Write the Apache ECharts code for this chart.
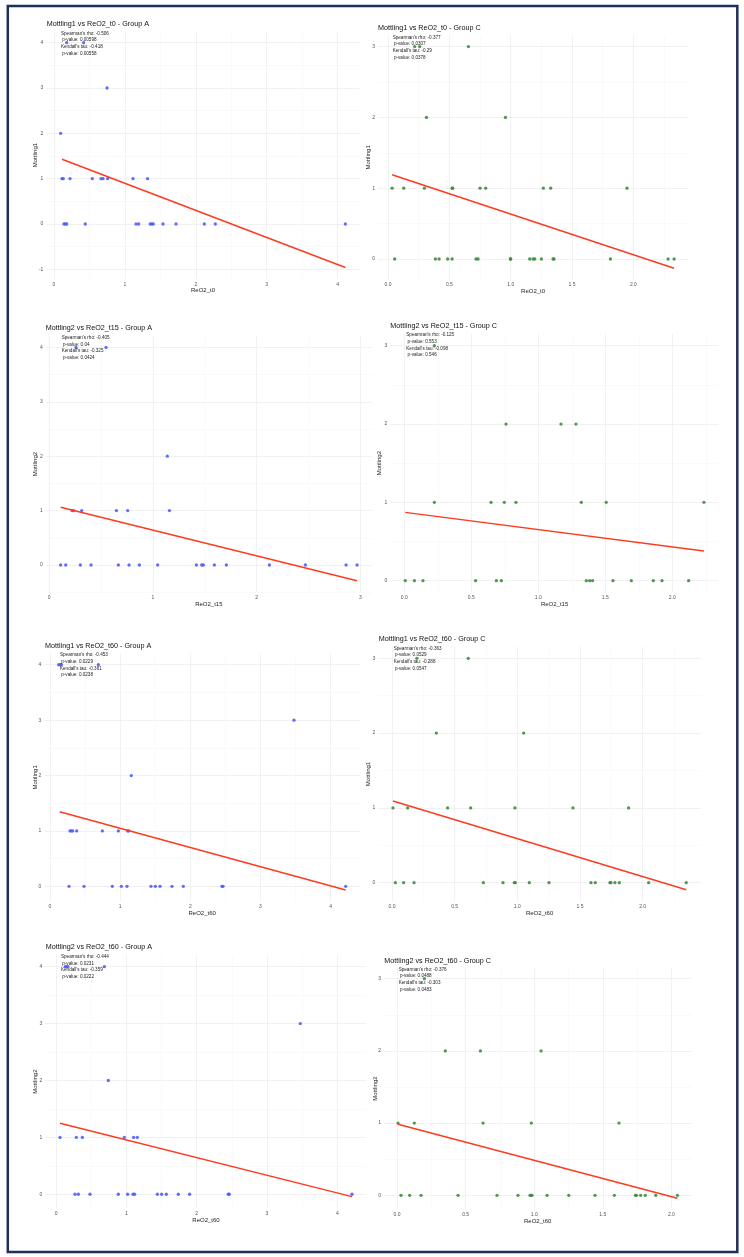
<!DOCTYPE html>
<html>
<head>
<meta charset="utf-8">
<script src="https://cdn.jsdelivr.net/npm/echarts@6/dist/echarts.min.js"></script>
<style>
  html, body { margin: 0; padding: 0; background: #fff; }
  #main { width: 744px; height: 1257px; }
</style>
</head>
<body>
<div id="main"></div>
<script>
// x values (ReO2) grouped by mottling score: index = score 0,1,2,3,4
var m1t0A = [
  [0.141, 0.16, 0.179, 0.441, 1.157, 1.194, 1.358, 1.378, 1.4, 1.537, 1.721, 2.12, 2.275, 4.109],
  [0.113, 0.131, 0.226, 0.54, 0.663, 0.691, 0.757, 1.114, 1.32],
  [0.094],
  [0.748],
  [0.179, 0.418]
];
var m1t0C = [
  [0.054, 0.386, 0.416, 0.486, 0.522, 0.717, 0.734, 0.997, 1.0, 1.155, 1.182, 1.196, 1.25, 1.345, 1.353, 1.813, 2.283, 2.332],
  [0.033, 0.128, 0.296, 0.522, 0.527, 0.75, 0.796, 1.266, 1.326, 1.948],
  [0.313, 0.957],
  [0.217, 0.258, 0.655]
];
var m2t15A = [
  [0.112, 0.161, 0.302, 0.405, 0.668, 0.771, 0.871, 1.047, 1.42, 1.471, 1.487, 1.593, 1.709, 2.123, 2.47, 2.862, 2.968],
  [0.222, 0.238, 0.315, 0.649, 0.758, 1.16],
  [1.14],
  [],
  [0.26, 0.549]
];
var m2t15C = [
  [0.007, 0.075, 0.139, 0.532, 0.687, 0.724, 1.358, 1.383, 1.405, 1.557, 1.694, 1.858, 1.923, 2.122],
  [0.224, 0.647, 0.746, 0.833, 1.321, 1.507, 2.236],
  [0.759, 1.169, 1.281],
  [0.224]
];
var m1t60A = [
  [0.271, 0.485, 0.888, 1.017, 1.097, 1.439, 1.501, 1.568, 1.739, 1.9, 2.451, 2.466, 4.214],
  [0.285, 0.304, 0.323, 0.38, 0.746, 0.974, 1.107, 1.121],
  [1.159],
  [3.477],
  [0.124, 0.147, 0.162, 0.689]
];
var m1t60C = [
  [0.027, 0.093, 0.176, 0.729, 0.886, 0.976, 0.984, 1.096, 1.253, 1.588, 1.622, 1.739, 1.747, 1.779, 1.814, 2.048, 2.348],
  [0.008, 0.125, 0.444, 0.628, 0.981, 1.444, 1.888],
  [0.354, 1.051],
  [0.199, 0.609]
];
var m2t60A = [
  [0.27, 0.318, 0.483, 0.886, 1.019, 1.095, 1.118, 1.441, 1.502, 1.569, 1.739, 1.9, 2.45, 2.464, 4.209],
  [0.057, 0.289, 0.374, 0.972, 1.104, 1.156],
  [0.744],
  [3.474],
  [0.133, 0.147, 0.171, 0.687]
];
var m2t60C = [
  [0.029, 0.092, 0.175, 0.445, 0.729, 0.882, 0.97, 0.977, 0.984, 1.094, 1.252, 1.443, 1.584, 1.738, 1.745, 1.776, 1.81, 1.886, 2.044],
  [0.007, 0.126, 0.627, 0.979, 1.618],
  [0.352, 0.608, 1.05],
  [0.199]
];

// fitted regression lines, endpoints
var fitM1T0A = [[0.113, 1.43], [4.109, -0.96]];
var fitM1T0C = [[0.033, 1.19], [2.332, -0.13]];
var fitM2T15A = [[0.112, 1.06], [2.968, -0.288]];
var fitM2T15C = [[0.007, 0.872], [2.236, 0.379]];
var fitM1T60A = [[0.138, 1.347], [4.214, -0.066]];
var fitM1T60C = [[0.008, 1.092], [2.348, -0.094]];
var fitM2T60A = [[0.057, 1.247], [4.209, -0.041]];
var fitM2T60C = [[0.007, 0.983], [2.044, -0.042]];

// rho, p, tau, p
var statsM1T0A = ['-0.506', '0.00598', '-0.418', '0.00558'];
var statsM1T0C = ['-0.377', '0.0307', '-0.29', '0.0378'];
var statsM2T15A = ['-0.405', '0.04', '-0.325', '0.0424'];
var statsM2T15C = ['-0.125', '0.553', '-0.098', '0.546'];
var statsM1T60A = ['-0.453', '0.0229', '-0.361', '0.0238'];
var statsM1T60C = ['-0.363', '0.0529', '-0.288', '0.0547'];
var statsM2T60A = ['-0.444', '0.0231', '-0.359', '0.0222'];
var statsM2T60C = ['-0.376', '0.0488', '-0.303', '0.0483'];

var panels = [
  { title: 'Mottling1 vs ReO2_t0 - Group A', xName: 'ReO2_t0', yName: 'Mottling1', pts: m1t0A, fit: fitM1T0A, stats: statsM1T0A, group: 'A' },
  { title: 'Mottling1 vs ReO2_t0 - Group C', xName: 'ReO2_t0', yName: 'Mottling1', pts: m1t0C, fit: fitM1T0C, stats: statsM1T0C, group: 'C' },
  { title: 'Mottling2 vs ReO2_t15 - Group A', xName: 'ReO2_t15', yName: 'Mottling2', pts: m2t15A, fit: fitM2T15A, stats: statsM2T15A, group: 'A' },
  { title: 'Mottling2 vs ReO2_t15 - Group C', xName: 'ReO2_t15', yName: 'Mottling2', pts: m2t15C, fit: fitM2T15C, stats: statsM2T15C, group: 'C' },
  { title: 'Mottling1 vs ReO2_t60 - Group A', xName: 'ReO2_t60', yName: 'Mottling1', pts: m1t60A, fit: fitM1T60A, stats: statsM1T60A, group: 'A' },
  { title: 'Mottling1 vs ReO2_t60 - Group C', xName: 'ReO2_t60', yName: 'Mottling1', pts: m1t60C, fit: fitM1T60C, stats: statsM1T60C, group: 'C' },
  { title: 'Mottling2 vs ReO2_t60 - Group A', xName: 'ReO2_t60', yName: 'Mottling2', pts: m2t60A, fit: fitM2T60A, stats: statsM2T60A, group: 'A' },
  { title: 'Mottling2 vs ReO2_t60 - Group C', xName: 'ReO2_t60', yName: 'Mottling2', pts: m2t60C, fit: fitM2T60C, stats: statsM2T60C, group: 'C' }
];

// panel boxes [left, top, width, height], axis extents, title and note anchors
var layout = [
  { box: [46.4, 31.4, 313.2, 247.4], x: [-0.107, 4.31], y: [-1.208, 4.248], title: [46.7, 21], note: [61, 30], yGap: 8.4 },
  { box: [378, 35.5, 310.2, 243.8], x: [-0.082, 2.447], y: [-0.287, 3.157], title: [378, 25], note: [392.7, 34], yGap: 7 },
  { box: [45.8, 335.8, 326.1, 256.5], x: [-0.031, 3.111], y: [-0.502, 4.214], title: [45.7, 325], note: [61.7, 334.3], yGap: 7.8 },
  { box: [390.4, 334, 328.4, 258.4], x: [-0.104, 2.347], y: [-0.15, 3.15], title: [390.3, 322.5], note: [406.3, 331.7], yGap: 8 },
  { box: [44.4, 653.5, 315.6, 247.8], x: [-0.08, 4.418], y: [-0.27, 4.203], title: [45, 642.5], note: [60, 651.7], yGap: 6.4 },
  { box: [378.3, 646.7, 322.6, 254.6], x: [-0.109, 2.465], y: [-0.249, 3.155], title: [378.7, 636], note: [393.7, 645], yGap: 7 },
  { box: [45.4, 955.2, 321.2, 252.9], x: [-0.151, 4.417], y: [-0.243, 4.202], title: [45.7, 944], note: [61, 953.3], yGap: 7.4 },
  { box: [384, 967.7, 307.4, 241.6], x: [-0.095, 2.146], y: [-0.194, 3.152], title: [384.3, 957.5], note: [398.7, 966], yGap: 5.7 }
];

var pointColor = { A: '#4f5dff', C: '#3e8c3e' };
var fitColor = '#ff3a20';
var font = 'Liberation Sans, Arial, sans-serif';

function tickFmt(step, dec) {
  return function (v) {
    var k = v / step;
    if (Math.abs(k - Math.round(k)) > 1e-6) return '';
    return (Math.round(k) * step).toFixed(dec);
  };
}

function toPoints(levels) {
  var out = [];
  levels.forEach(function (xs, lvl) {
    xs.forEach(function (x) { out.push([x, lvl]); });
  });
  return out;
}

function axisCommon(step, dec) {
  return {
    type: 'value',
    minInterval: step,
    maxInterval: step,
    axisLine: { show: false },
    axisTick: { show: false },
    minorTick: { show: false, splitNumber: 2 },
    axisLabel: { fontSize: 5, color: '#555', margin: 3, fontFamily: font, formatter: tickFmt(step, dec) },
    splitLine: { show: true, showMinLine: false, showMaxLine: false, lineStyle: { color: '#ebebeb', width: 0.7 } },
    minorSplitLine: { show: true, lineStyle: { color: '#f4f4f4', width: 0.5 } },
    nameLocation: 'middle',
    nameTextStyle: { fontSize: 6, color: '#222', fontFamily: font }
  };
}

var grids = [], xAxes = [], yAxes = [], series = [], titles = [];

panels.forEach(function (p, i) {
  var L = layout[i];
  var xStep = p.group === 'A' ? 1 : 0.5;
  var xDec = p.group === 'A' ? 0 : 1;
  grids.push({ left: L.box[0], top: L.box[1], width: L.box[2], height: L.box[3] });

  var xa = axisCommon(xStep, xDec);
  xa.gridIndex = i; xa.min = L.x[0]; xa.max = L.x[1];
  xa.name = p.xName; xa.nameGap = 8;
  xAxes.push(xa);

  var ya = axisCommon(1, 0);
  ya.gridIndex = i; ya.min = L.y[0]; ya.max = L.y[1];
  ya.name = p.yName; ya.nameGap = L.yGap;
  ya.nameMoveOverlap = false;
  yAxes.push(ya);

  titles.push({
    text: p.title, left: L.title[0], top: L.title[1], padding: 0,
    textStyle: { fontSize: 7.2, fontWeight: 'normal', color: '#111', fontFamily: font }
  });
  titles.push({
    text: "Spearman's rho: " + p.stats[0] + '\n p-value: ' + p.stats[1] +
          "\nKendall's tau: " + p.stats[2] + '\n p-value: ' + p.stats[3],
    left: L.note[0], top: L.note[1], padding: 0,
    textStyle: { fontSize: 4.6, lineHeight: 6.7, fontWeight: 'normal', color: '#222', fontFamily: font }
  });

  series.push({
    type: 'scatter', xAxisIndex: i, yAxisIndex: i,
    symbolSize: 3.3, clip: false,
    itemStyle: { color: pointColor[p.group], opacity: 0.9 },
    data: toPoints(p.pts)
  });
  series.push({
    type: 'line', xAxisIndex: i, yAxisIndex: i,
    symbol: 'none', silent: true,
    lineStyle: { color: fitColor, width: 1.5 },
    data: p.fit
  });
});

var chartDom = document.getElementById('main');
var myChart = echarts.init(chartDom);
var option = {
  backgroundColor: '#fff',
  animation: false,
  title: titles,
  grid: grids,
  xAxis: xAxes,
  yAxis: yAxes,
  series: series,
  graphic: [{
    type: 'rect', silent: true,
    shape: { x: 7.8, y: 6, width: 729.5, height: 1246 },
    style: { fill: 'none', stroke: '#1f2f55', lineWidth: 2.5 }
  }]
};
myChart.setOption(option);

window.onresize = () => {
  myChart.resize();
};
</script>
</body>
</html>
